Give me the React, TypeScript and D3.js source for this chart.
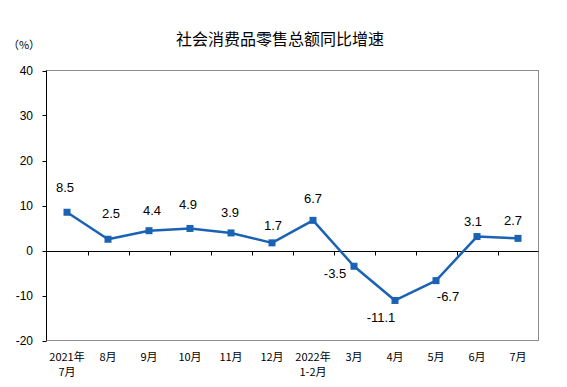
import React from 'react';
import * as d3 from 'd3';

const categories = ['2021年\n7月', '8月', '9月', '10月', '11月', '12月', '2022年\n1-2月', '3月', '4月', '5月', '6月', '7月'];
const values = [8.5, 2.5, 4.4, 4.9, 3.9, 1.7, 6.7, -3.5, -11.1, -6.7, 3.1, 2.7];
const yTicks = [-20, -10, 0, 10, 20, 30, 40];
// hand-placed label offsets from each point (dx, dy of baseline)
const labelDx = [-2, 3, 3, -2, -1, 1, 0, -19, -14, 12, -4, -5];
const labelDy = [-20, -21, -16, -19, -16, -13, -17, 12, 22, 20, -11, -13];

const W = 567;
const H = 387;
const margin = { top: 70.5, right: 28.5, bottom: 46.5, left: 46.5 };
const lineColor = '#1a62b4';
const latin = '"Liberation Sans", Arial, sans-serif';
const cjk = '"Noto Sans CJK SC", "Liberation Sans", sans-serif';

const App: React.FC = () => {
  const x = d3.scaleBand<string>()
    .domain(categories)
    .range([margin.left, W - margin.right])
    .padding(0);
  const y = d3.scaleLinear()
    .domain([-20, 40])
    .range([H - margin.bottom, margin.top]);

  const cx = (i: number) => (x(categories[i]) as number) + x.bandwidth() / 2;
  const line = d3.line<number>()
    .x((_, i) => cx(i))
    .y(d => y(d));

  const zeroY = Math.round(y(0)) + 0.5;
  const boundaries = categories.slice(1).map(c => Math.round(x(c) as number) + 0.5);

  return (
    <div style={{ position: 'absolute', left: 0, top: 0, width: W, height: H, background: '#fff' }}>
      <svg width={W} height={H} viewBox={`0 0 ${W} ${H}`} style={{ display: 'block' }}>
        <rect width={W} height={H} fill="#fff" />
        <text x={280} y={45} textAnchor="middle" fontFamily={cjk} fontSize={16} fill="#000">
          社会消费品零售总额同比增速
        </text>
        <text x={24} y={49} textAnchor="middle" fontFamily={cjk} fontSize={11} fill="#000">
          （%）
        </text>

        {/* plot frame */}
        <rect x={margin.left} y={margin.top} width={W - margin.left - margin.right}
          height={y(-20) - margin.top} fill="none" stroke="#8c8c8c" strokeWidth={1} />
        <line x1={margin.left} x2={margin.left} y1={margin.top} y2={y(-20)} stroke="#000" />

        {/* y ticks */}
        {yTicks.map(t => (
          <g key={t}>
            <line x1={margin.left - 4} x2={margin.left} y1={Math.round(y(t)) + 0.5} y2={Math.round(y(t)) + 0.5} stroke="#000" />
            <text x={33} y={y(t) + 4.5} textAnchor="end" fontFamily={latin} fontSize={12} fill="#000">{t}</text>
          </g>
        ))}

        {/* zero line with category ticks */}
        <line x1={margin.left} x2={W - margin.right} y1={zeroY} y2={zeroY} stroke="#000" />
        {boundaries.map((b, i) => (
          <line key={i} x1={b} x2={b} y1={zeroY} y2={zeroY + 4} stroke="#000" />
        ))}

        {/* category labels */}
        {categories.map((c, i) => (
          <text key={c} x={cx(i)} y={361} textAnchor="middle" fontFamily={cjk} fontSize={11} fill="#000">
            {c.split('\n').map((part, j) => (
              <tspan key={j} x={cx(i)} dy={j === 0 ? 0 : 15}>{part}</tspan>
            ))}
          </text>
        ))}

        <path d={line(values) || ''} fill="none" stroke={lineColor} strokeWidth={2.5} strokeLinejoin="round" />
        {values.map((v, i) => (
          <rect key={i} x={cx(i) - 3.5} y={y(v) - 3.5} width={7} height={7} fill={lineColor} />
        ))}
        {values.map((v, i) => (
          <text key={i} x={cx(i) + labelDx[i]} y={y(v) + labelDy[i]} textAnchor="middle"
            fontFamily={latin} fontSize={13} fill="#000">{v}</text>
        ))}
      </svg>
    </div>
  );
};

export default App;
